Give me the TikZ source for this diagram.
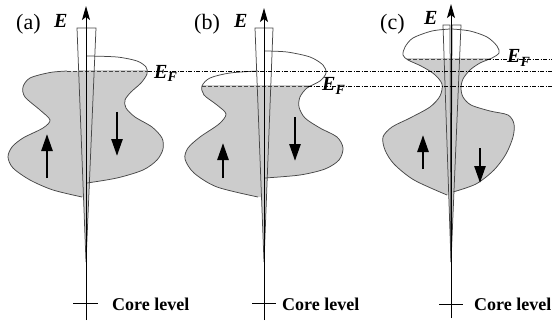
\documentclass[tikz,border=0pt]{standalone}
\usepackage{fontspec}
\setmainfont{Liberation Serif}
\usetikzlibrary{arrows.meta}
\definecolor{dosgrey}{gray}{0.8}
\definecolor{edgegrey}{gray}{0.28}
\newcommand\doslobe[4]{%
  \begin{scope}
    \clip (0,#4) rectangle (552,330);
    \fill[dos] #1 -- plot[smooth] coordinates {#2} -- #3 -- cycle;
  \end{scope}
  \draw[edge] plot[smooth] coordinates {#2};}
\newcommand\dosstrip[4]{%
  \begin{scope}
    \clip (0,#4) rectangle (552,330);
    \fill[dos] #1 -- #2 -- #3 -- cycle;
  \end{scope}}

\begin{document}
\begin{tikzpicture}[x=1pt, y=-1pt,
  dos/.style={fill=dosgrey},
  edge/.style={draw=edgegrey, line width=0.75pt},
  efin/.style={draw=edgegrey, line width=0.75pt, dash pattern=on 4pt off 2pt},
  level/.style={draw=black, line width=0.75pt, dash pattern=on 4pt off 1.5pt on 1pt off 1.5pt},
  eaxis/.style={-{Stealth[length=14pt, width=8pt, inset=3pt]}, line width=1pt},
  tick/.style={line width=1pt},
  spin/.style={-{Triangle[length=17pt, width=11pt]}, line width=2.6pt},
  tag/.style={anchor=base west, inner sep=0pt, font=\fontsize{22}{22}\selectfont},
  elabel/.style={anchor=base west, inner sep=0pt, font=\fontsize{20}{20}\selectfont\bfseries\itshape},
  core/.style={anchor=base west, inner sep=0pt, font=\fontsize{18}{18}\selectfont\bfseries}]

\useasboundingbox (0,0) rectangle (552,321);

% (a)
\dosstrip{(77,28)}{(96,28)}{(86,262)}{71}
\doslobe{(86,71)}{(67,71) (50,72.5) (30,78) (23,87) (25,97) (40,110) (50,120) (43,128) (23,138) (12,147) (8,157) (13,168) (30,180) (53,190) (82,197)}{(86,197)}{71}
\doslobe{(86,56)}{(87,56) (117,57) (137,61) (146,67) (147,74) (141,83) (131,92) (125,100) (126,108) (135,117) (152,127) (162,138) (163,149) (157,160) (143,170) (117,178) (87,183)}{(86,183)}{71}
\draw[edge] (77,28) -- (96,28) -- (86,262) -- cycle;

% (b)
\dosstrip{(255,28)}{(273,28)}{(264,262)}{86}
\doslobe{(264,71)}{(258,71) (230,73) (210,78) (202,86) (204,95) (217,105) (226,114) (219,124) (200,137) (188,148) (185,159) (194,173) (217,187) (258,197)}{(264,197)}{86}
\doslobe{(264,51)}{(265,51) (287,52) (310,57) (323,65) (326,73) (320,81) (307,88) (300,97) (299,107) (305,118) (320,128) (337,137) (343,148) (339,160) (325,169) (300,175) (265,178)}{(264,178)}{86}
\draw[edge] (255,28) -- (273,28) -- (264,262) -- cycle;

% (c)
\dosstrip{(443,25)}{(461,25)}{(451,262)}{59}
\doslobe{(451,29)}{(450,29) (432,31) (413,38) (405,47) (403,55) (408,60) (421,66) (434,74) (442,84) (440,96) (430,107) (410,118) (392,127) (383,137) (385,150) (394,164) (414,180) (447,195)}{(451,195)}{59}
\doslobe{(451,29)}{(452,29) (470,31) (487,37) (497,46) (499,53) (492,58) (480,63) (470,70) (463,79) (461,88) (463,97) (471,105) (490,111) (508,115) (514,124) (513,137) (506,154) (494,170) (476,184) (453,192)}{(451,192)}{59}
\draw[edge] (443,25) -- (450,25) -- (451,262) -- cycle;
\draw[edge] (452,25) -- (461,25) -- (451,262) -- cycle;

% Fermi levels
\draw[efin] (67,71) -- (148,71);
\draw[level] (148,71) -- (552,71);
\draw[efin] (202,86) -- (308,86);
\draw[level] (308,86) -- (552,86);
\draw[efin] (407,59) -- (487,59);
\draw[level] (487,59) -- (552,59);

% energy axes
\coordinate (botA) at (86,320);
\coordinate (topA) at (86,6);
\coordinate (botB) at (264,320);
\coordinate (topB) at (264,8);
\coordinate (botC) at (451,318);
\coordinate (topC) at (451,4);
\draw[eaxis] (botA) -- (topA);
\draw[eaxis] (botB) -- (topB);
\draw[eaxis] (botC) -- (topC);
\draw[tick] (73,303) -- (98,303);
\draw[tick] (252,303) -- (276,303);
\draw[tick] (439,304) -- (463,304);

% spins
\draw[spin] (47,178) -- (47,134);
\draw[spin] (117,112) -- (117,156);
\draw[spin] (223,178) -- (223,143);
\draw[spin] (295,117) -- (295,161);
\draw[spin] (423,169) -- (423,135);
\draw[spin] (480,148) -- (480,183);

\node[tag] (tagA) at (16,30) {(a)};
\node[tag] (tagB) at (194,30) {(b)};
\node[tag] (tagC) at (380,30) {(c)};
\node[elabel] (eA) at (54,28) {E};
\node[elabel] (eB) at (234,28) {E};
\node[elabel] (eC) at (424,25) {E};
\node[elabel] (efA) at (154,78) {E\textsubscript{F}};
\node[elabel] (efB) at (322,91) {E\textsubscript{F}};
\node[elabel] (efC) at (507,63) {E\textsubscript{F}};
\node[core] (coreA) at (112,310) {Core level};
\node[core] (coreB) at (282,310) {Core level};
\node[core] (coreC) at (474,310) {Core level};

\end{tikzpicture}
\end{document}
